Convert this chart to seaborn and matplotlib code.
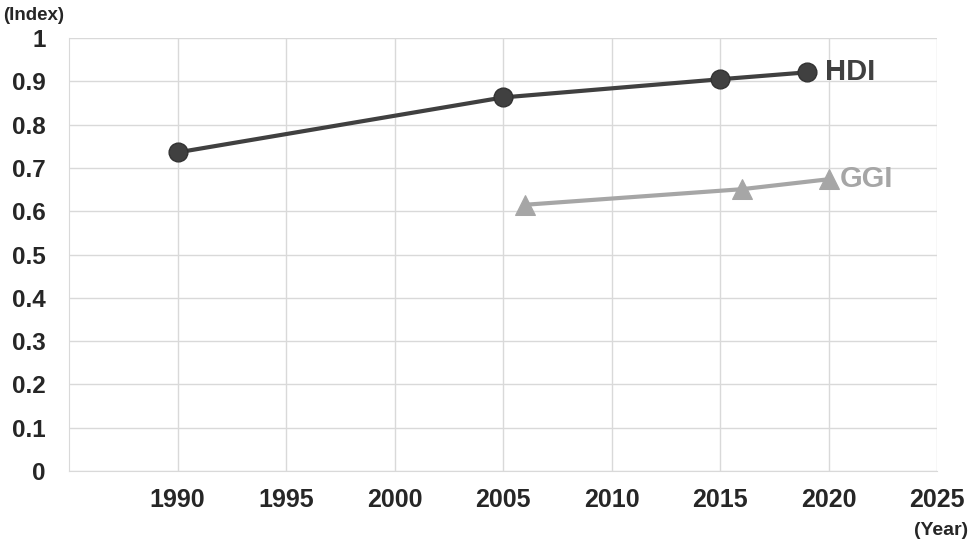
import matplotlib
matplotlib.use("Agg")
import matplotlib.pyplot as plt
import seaborn as sns
import pandas as pd

# data
hdi_years = [1990, 2005, 2015, 2019]
hdi_values = [0.736, 0.863, 0.905, 0.921]
ggi_years = [2006, 2016, 2020]
ggi_values = [0.615, 0.651, 0.674]
x_ticks = [1990, 1995, 2000, 2005, 2010, 2015, 2020, 2025]
y_ticks = [0, 0.1, 0.2, 0.3, 0.4, 0.5, 0.6, 0.7, 0.8, 0.9, 1]
y_tick_labels = ["0", "0.1", "0.2", "0.3", "0.4", "0.5", "0.6", "0.7", "0.8", "0.9", "1"]

sns.set_style("white")
plt.rcParams["font.family"] = ["Liberation Sans", "DejaVu Sans"]

hdi = pd.DataFrame({"year": hdi_years, "value": hdi_values})
ggi = pd.DataFrame({"year": ggi_years, "value": ggi_values})

fig = plt.figure(figsize=(9.71, 5.45), dpi=100)
ax = fig.add_axes([0.0711, 0.1358, 0.8939, 0.7942])

dark = "#404040"
light = "#a6a6a6"

sns.lineplot(data=hdi, x="year", y="value", ax=ax, color=dark, linewidth=3,
             marker="o", markersize=13.5, markeredgecolor="#333333",
             markeredgewidth=1, zorder=3)
sns.lineplot(data=ggi, x="year", y="value", ax=ax, color=light, linewidth=3,
             marker="^", markersize=15, markeredgecolor=light, zorder=3)

ax.set_xlim(1985, 2025)
ax.set_ylim(0, 1)
ax.set_xticks(x_ticks)
ax.set_xticklabels([str(x) for x in x_ticks])
ax.set_yticks(y_ticks)
ax.set_yticklabels(y_tick_labels)
ax.grid(True, color="#d9d9d9", linewidth=1)
ax.set_axisbelow(True)
for s in ax.spines.values():
    s.set_visible(False)
ax.spines["bottom"].set_visible(True)
ax.spines["bottom"].set_color("#d9d9d9")
ax.spines["left"].set_visible(True)
ax.spines["left"].set_color("#d9d9d9")

ax.tick_params(axis="y", length=0, pad=17, labelsize=17.5)
ax.tick_params(axis="x", length=0, pad=12, labelsize=18)
for lbl in ax.get_xticklabels() + ax.get_yticklabels():
    lbl.set_fontweight("bold")
ax.set_xlabel("")
ax.set_ylabel("")

ax.annotate("HDI", (hdi_years[-1], hdi_values[-1]), xytext=(13, 0),
            textcoords="offset points", va="center", ha="left",
            fontsize=21, fontweight="bold", color=dark)
ax.annotate("GGI", (ggi_years[-1], ggi_values[-1]), xytext=(8, 0),
            textcoords="offset points", va="center", ha="left",
            fontsize=21, fontweight="bold", color=light)

fig.text(0.003, 0.972, "(Index)", fontsize=13.5, fontweight="bold", va="center", ha="left")
fig.text(0.997, 0.026, "(Year)", fontsize=14, fontweight="bold", va="center", ha="right")

fig.savefig("out.png", dpi=100)
